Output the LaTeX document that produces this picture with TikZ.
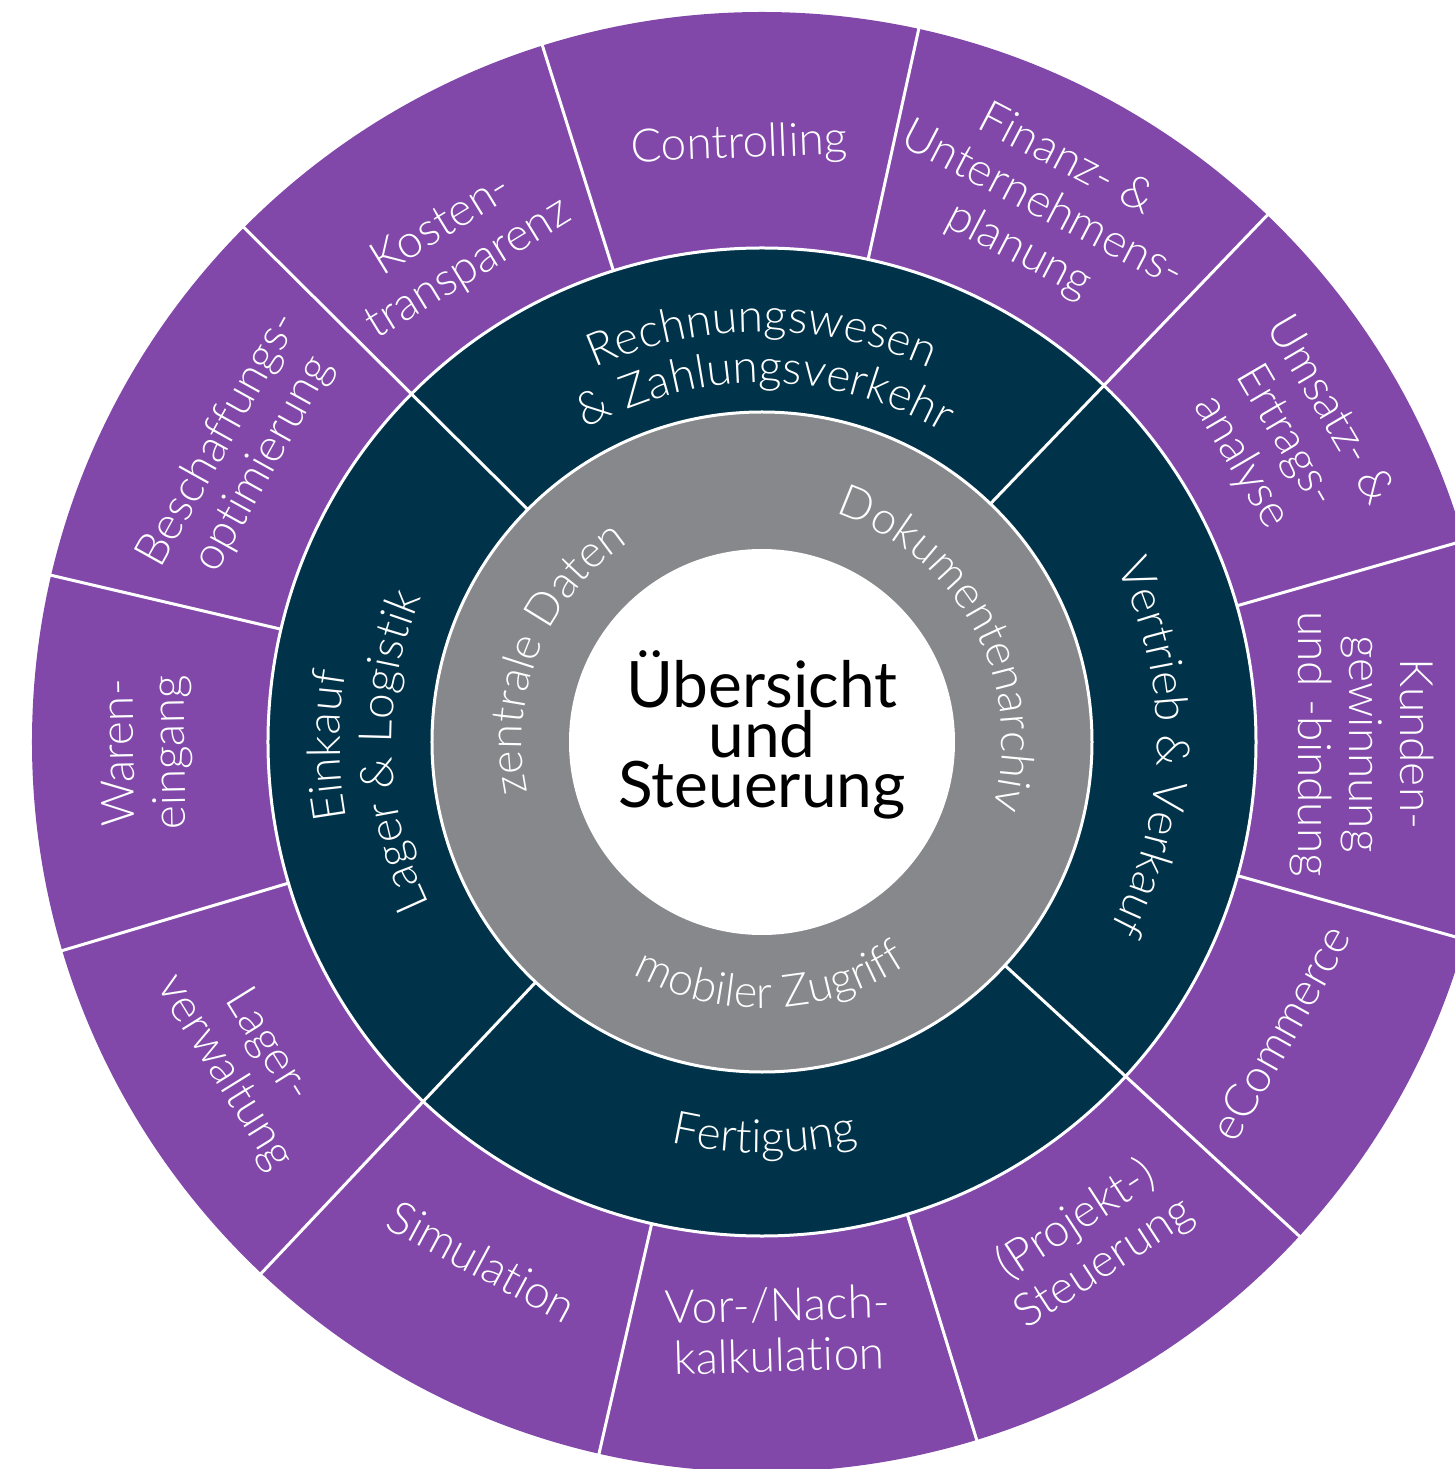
\documentclass[tikz,border=0pt]{standalone}
\usepackage{fontspec}
\usetikzlibrary{decorations.text}
\IfFontExistsTF{Lato Light}{\newfontfamily\lightfont[Ligatures=NoCommon]{Lato Light}}{%
  \IfFontExistsTF{Fira Sans Light}{\newfontfamily\lightfont[Ligatures=NoCommon]{Fira Sans Light}}{\newfontfamily\lightfont[Ligatures=NoCommon]{Lato}}}
\newfontfamily\regfont[Ligatures=NoCommon]{Lato}
\definecolor{purp}{HTML}{8147A9}
\definecolor{navy}{HTML}{00334A}
\definecolor{grayring}{HTML}{87888C}
\newcommand\myringfont{\lightfont\fontsize{46}{51}\selectfont}
\newcommand\mygrayfont{\lightfont\fontsize{45}{50}\selectfont}
\newcommand\mycenterfont{\regfont\fontsize{64}{50}\selectfont}
\begin{document}
\begin{tikzpicture}[x=1pt,y=1pt,
  outer/.style={text=white, font=\myringfont, align=center, inner sep=0pt},
  sepline/.style={draw=white, line width=3pt},
]
\useasboundingbox (-762,-727) rectangle (693,742);
\clip (-762,-727) rectangle (693,742);
\coordinate (c) at (0,0);
% rings
\fill[purp] (c) circle[radius=730];
\fill[navy] (c) circle[radius=494];
\fill[grayring] (c) circle[radius=330];
\fill[white] (c) circle[radius=193];
\draw[sepline] (c) circle[radius=494];
\draw[sepline] (c) circle[radius=330];
% outer separators
\foreach \a in {16,77.6,107.5,166.8,196.6,257.1,287.1,344.3}
  \draw[sepline] (\a:494) -- (\a:735);
% separators through dark and outer ring
\foreach \a in {46.2,135.2,226.7,317.4}
  \draw[sepline] (\a:330) -- (\a:735);
% outer ring texts
\node[outer, rotate=2.2] (controlling) at (92.2:597) {Controlling};
\node[outer, rotate=-27.6] (finanz) at (62.4:605) {Finanz- \&\\Unternehmens-\\planung};
\node[outer, rotate=-59.7] (umsatz) at (30.3:606) {Umsatz- \&\\Ertrags-\\analyse};
\node[outer, rotate=-90] (kunden) at (-0.2:600) {Kunden-\\gewinnung\\und -bindung};
\node[outer, rotate=60.7] (ecommerce) at (330.7:594) {eCommerce};
\node[outer, rotate=33.1] (projekt) at (303.3:598) {(Projekt-)\\Steuerung};
\node[outer, rotate=1.6] (vornach) at (271.6:588) {Vor-/Nach-\\kalkulation};
\node[outer, rotate=-28.3] (simulation) at (241.7:590) {Simulation};
\node[outer, rotate=-58.2] (lagerverw) at (211.6:606) {Lager-\\verwaltung};
\node[outer, rotate=91] (waren) at (181:615) {Waren-\\eingang};
\node[outer, rotate=60.9] (beschaffung) at (150.9:596) {Beschaffungs-\\optimierung};
\node[outer, rotate=31.5] (kosten) at (121.8:582) {Kosten-\\transparenz};
% dark ring texts (curved)
\path[decorate, decoration={text along path, text align=center, text color=white,
  text={|\myringfont|Rechnungswesen}}] (150:410) arc[start angle=150, end angle=30, radius=410];
\path[decorate, decoration={text along path, text align=center, text color=white,
  text={|\myringfont|{\&} Zahlungsverkehr}}] (149.5:359) arc[start angle=149.5, end angle=29.5, radius=359];
\path[decorate, decoration={text along path, text align=center, text color=white,
  text={|\myringfont|Einkauf}}] (240.5:422) arc[start angle=240.5, end angle=120.5, radius=422];
\path[decorate, decoration={text along path, text align=center, text color=white,
  text={|\myringfont|Lager {\&} Logistik}}] (241.5:370) arc[start angle=241.5, end angle=121.5, radius=370];
\path[decorate, decoration={text along path, text align=center, text color=white,
  text={|\myringfont|Vertrieb {\&} Verkauf}}] (59.2:395) arc[start angle=59.2, end angle=-60.8, radius=395];
\path[decorate, decoration={text along path, text align=center, text color=white,
  text={|\myringfont|Fertigung}}] (210.3:411) arc[start angle=210.3, end angle=330.3, radius=411];
% gray ring texts (curved)
\path[decorate, decoration={text along path, text align=center, text color=white,
  text={|\mygrayfont|zentrale Daten}}] (218:240) arc[start angle=218, end angle=98, radius=240];
\path[decorate, decoration={text along path, text align=center, text color=white,
  text={|\mygrayfont|Dokumentenarchiv}}] (98:240) arc[start angle=98, end angle=-42, radius=240];
\path[decorate, decoration={text along path, text align=center, text color=white,
  text={|\mygrayfont|mobiler Zugriff}}] (202:266) arc[start angle=202, end angle=342, radius=266];
% centre
\node[font=\mycenterfont, align=center, text=black, inner sep=0pt] (centre) at (0,7) {Übersicht\\und\\Steuerung};
\end{tikzpicture}
\end{document}
